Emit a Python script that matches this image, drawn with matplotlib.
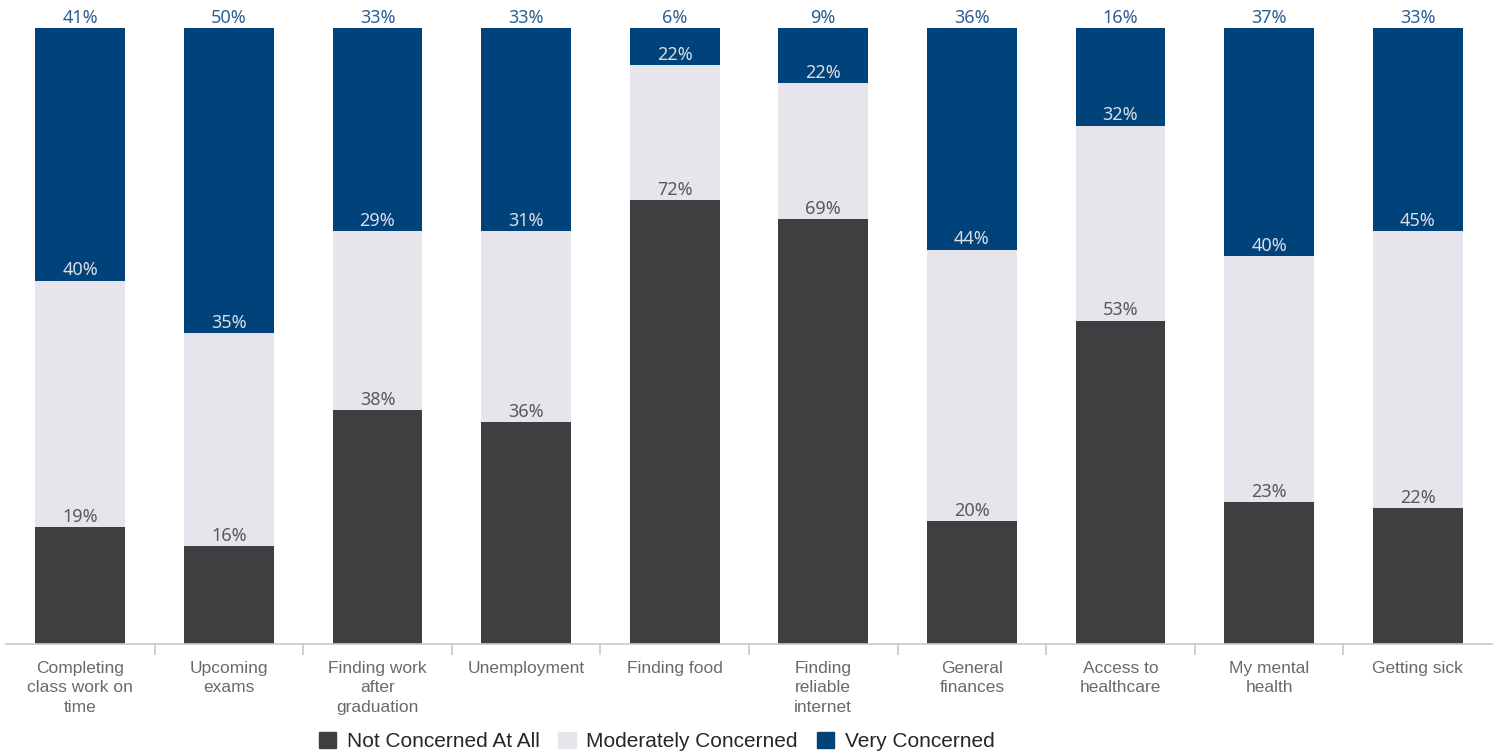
import matplotlib
matplotlib.use("Agg")
import matplotlib.pyplot as plt
import numpy as np
from matplotlib.patches import Patch

categories = [
    "Completing\nclass work on\ntime",
    "Upcoming\nexams",
    "Finding work\nafter\ngraduation",
    "Unemployment",
    "Finding food",
    "Finding\nreliable\ninternet",
    "General\nfinances",
    "Access to\nhealthcare",
    "My mental\nhealth",
    "Getting sick",
]
not_concerned = [19, 16, 38, 36, 72, 69, 20, 53, 23, 22]
moderately = [40, 35, 29, 31, 22, 22, 44, 32, 40, 45]
very = [41, 50, 33, 33, 6, 9, 36, 16, 37, 33]
series_names = ["Not Concerned At All", "Moderately Concerned", "Very Concerned"]

c_dark = "#3f3f41"
c_light = "#e7e5eb"
c_blue = "#00427a"

plt.rcParams["font.family"] = ["Liberation Sans", "DejaVu Sans"]

fig = plt.figure(figsize=(14.99, 7.55), dpi=100)
ax = fig.add_axes([0.004, 0.147, 0.9913, 0.816])

nc = np.array(not_concerned, float)
mo = np.array(moderately, float)
vc = np.array(very, float)
tot = nc + mo + vc
f_nc = nc / tot
f_mo = mo / tot
f_vc = vc / tot

x = np.arange(len(categories))
w = 0.605
ax.bar(x, f_nc, w, color=c_dark, zorder=2)
ax.bar(x, f_mo, w, bottom=f_nc, color=c_light, zorder=2)
ax.bar(x, f_vc, w, bottom=f_nc + f_mo, color=c_blue, zorder=2)

lab_font = dict(fontfamily=["Noto Sans", "DejaVu Sans"], fontsize=13, ha="center", va="bottom")
for i in range(len(x)):
    ax.text(x[i], f_nc[i] + 0.002, f"{not_concerned[i]}%", color="#5a5a5c", **lab_font)
    ax.text(x[i], f_nc[i] + f_mo[i] + 0.002, f"{moderately[i]}%", color="#dcdce4", **lab_font)
    ax.text(x[i], 1.0 + 0.001, f"{very[i]}%", color="#2f5f92", clip_on=False, **lab_font)

ax.set_xlim(-0.5, len(categories) - 0.5)
ax.set_ylim(0, 1)
ax.set_yticks([])
for s in ["top", "right", "left"]:
    ax.spines[s].set_visible(False)
ax.spines["bottom"].set_color("#c8c8c8")
ax.spines["bottom"].set_linewidth(1.2)

ax.set_xticks(x)
ax.set_xticklabels(categories, fontsize=12.5, color="#6a6a6c", linespacing=1.4)
ax.tick_params(axis="x", which="major", length=0, pad=12)
ax.set_xticks(np.arange(0.5, len(categories) - 0.5, 1), minor=True)
ax.tick_params(axis="x", which="minor", length=8, color="#c8c8c8", width=1.2)

handles = [Patch(color=c, label=n) for c, n in zip([c_dark, c_light, c_blue], series_names)]
fig.legend(handles=handles, loc="center", bbox_to_anchor=(0.438, 0.018), ncol=3,
           frameon=False, fontsize=15, handlelength=0.85, handleheight=0.85,
           handletextpad=0.5, columnspacing=0.9, labelcolor="#262626")

fig.savefig("out.png", dpi=100)
